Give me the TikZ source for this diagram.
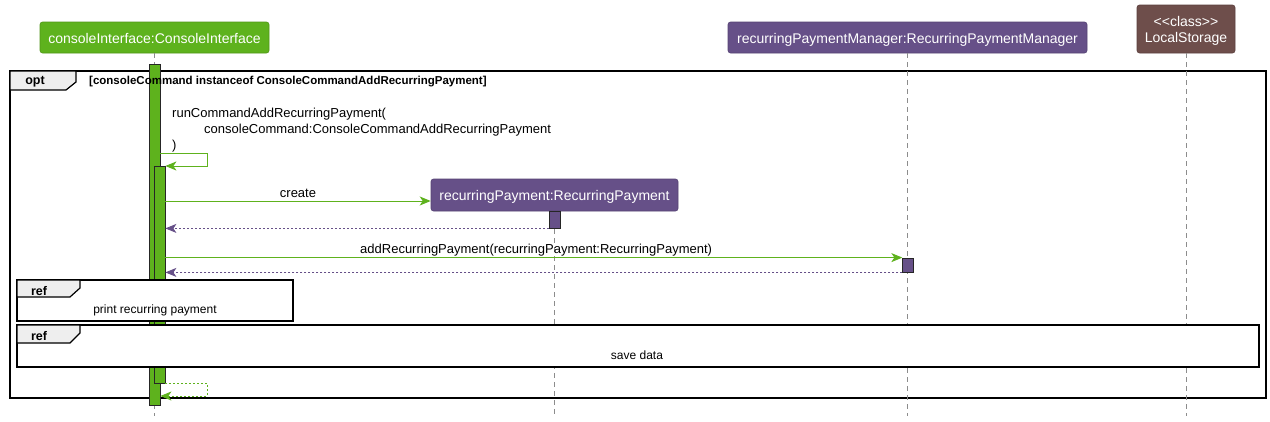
\documentclass[tikz,border=0pt]{standalone}
\usepackage{fontspec}
\setmainfont{Liberation Sans}
\newfontfamily\rawsans{Liberation Sans}
\usetikzlibrary{arrows.meta}
\definecolor{pgreen}{RGB}{94,178,29}
\definecolor{pgreenD}{RGB}{80,150,24}
\definecolor{ppurple}{RGB}{102,80,136}
\definecolor{ppurpleD}{RGB}{85,66,115}
\definecolor{pbrown}{RGB}{110,78,75}
\definecolor{pbrownD}{RGB}{92,64,62}
\definecolor{tabgray}{RGB}{238,238,238}
\definecolor{lifegray}{RGB}{140,140,140}
\begin{document}
\begin{tikzpicture}[x=1pt,y=-1pt,
  part/.style={rounded corners=2.5pt, inner sep=0pt, line width=0.6pt},
  ptext/.style={text=white, font=\rawsans\fontsize{14}{16}\selectfont, anchor=base, inner sep=0pt},
  life/.style={draw=lifegray, dash pattern=on 5pt off 4pt, line width=0.7pt},
  actbar/.style={draw=black!85, line width=0.8pt, minimum width=11pt, inner sep=0pt},
  tip/.style={-{Stealth[length=11pt,width=9pt,inset=3pt]}},
  msg/.style={draw=pgreen, line width=1pt, tip},
  ret/.style={draw=ppurple, line width=0.8pt, dash pattern=on 2pt off 2pt, tip},
  retg/.style={draw=pgreen, line width=0.8pt, dash pattern=on 2pt off 2pt, tip},
  mtext/.style={font=\fontsize{13}{16}\selectfont, inner sep=0pt},
  frame/.style={draw=black, line width=1.5pt},
  ftext/.style={font=\bfseries\fontsize{12.5}{14}\selectfont, inner sep=0pt, anchor=base},
  rtext/.style={font=\fontsize{12}{14}\selectfont, inner sep=0pt, anchor=base}
]
\useasboundingbox (0,0) rectangle (1270,421);
\fill[white] (0,0) rectangle (1270,421);

% opt frame
\draw[frame] (10,71) rectangle (1266,398);
\draw[frame, line width=1.2pt, fill=tabgray] (10,71) -- (76,71) -- (76,82) -- (66,90) -- (10,90) -- cycle;

% participants
\node[part, fill=pgreen, draw=pgreenD, minimum width=229pt, minimum height=31pt] (ci) at (154.5,37.5) {};
\node[ptext] (cit) at (154.5,43) {consoleInterface:ConsoleInterface};
\node[part, fill=ppurple, draw=ppurpleD, minimum width=359pt, minimum height=31pt] (rpm) at (907.5,37.5) {};
\node[ptext] (rpmt) at (907.5,43) {recurringPaymentManager:RecurringPaymentManager};
\node[part, fill=pbrown, draw=pbrownD, minimum width=98pt, minimum height=48pt] (ls) at (1186,29) {};
\node[ptext] (lst1) at (1186,26) {<<class>>};
\node[ptext] (lst2) at (1186,42) {LocalStorage};
\node[part, fill=ppurple, draw=ppurpleD, minimum width=247pt, minimum height=32pt] (rp) at (554.5,195) {};
\node[ptext] (rpt) at (554.5,200) {recurringPayment:RecurringPayment};

% lifelines
\coordinate (bot) at (0,416);
\draw[life] (ci.south) -- (ci.south |- bot);
\draw[life] (rp.south) -- (rp.south |- bot);
\draw[life] (rpm.south) -- (rpm.south |- bot);
\draw[life] (ls.south) -- (ls.south |- bot);

% activation bars
\node[actbar, fill=pgreen, minimum height=341pt] (a1) at (154.5,234.5) {};
\node[actbar, fill=pgreen, minimum height=217pt] (a2) at (159.5,274.5) {};
\node[actbar, fill=ppurple, minimum height=17pt] (b1) at (554.5,219.5) {};
\node[actbar, fill=ppurple, minimum width=10.5pt, minimum height=14pt] (c1) at (908,265) {};

% messages
\node[mtext, anchor=base west] (l1) at (172,117) {runCommandAddRecurringPayment(};
\node[mtext, anchor=base west] (l2) at (204,133) {consoleCommand:ConsoleCommandAddRecurringPayment};
\node[mtext, anchor=base west] (l3) at (172,149) {)};
\draw[msg] (a1.east |- 0,153) -- ++(47,0) |- (a2.east |- 0,166);

\node[mtext, anchor=base] (cr) at (298,197) {create};
\draw[msg] (a2.east |- 0,201) -- (rp.west |- 0,201);
\draw[ret] (b1.south west) -- (a2.east |- b1.south);

\node[mtext, anchor=base west] (add) at (360,253) {addRecurringPayment(recurringPayment:RecurringPayment)};
\draw[msg] (a2.east |- c1.north) -- (c1.north west);
\draw[ret] (c1.south west) -- (a2.east |- c1.south);

% ref 1
\draw[frame, fill=white] (17,280) rectangle (293,321);
\draw[frame, line width=1.2pt, fill=tabgray] (17,280) -- (80,280) -- (80,288) -- (70,297) -- (17,297) -- cycle;
\node[ftext] (r1) at (39,295) {ref};
\node[rtext] (r1t) at (155,313) {print recurring payment};

% ref 2
\draw[frame, fill=white] (17,325) rectangle (1259,367);
\draw[frame, line width=1.2pt, fill=tabgray] (17,325) -- (80,325) -- (80,333) -- (70,343) -- (17,343) -- cycle;
\node[ftext] (r2) at (39,340) {ref};
\node[rtext] (r2t) at (637,359) {save data};

% final return
\draw[retg] (a2.south east) -- ++(42,0) |- (a1.east |- 0,396);

% opt labels
\node[ftext] (optl) at (35,84) {opt};
\node[font=\bfseries\fontsize{11.5}{13}\selectfont, inner sep=0pt, anchor=base west] (guard) at (89,84) {[consoleCommand instanceof ConsoleCommandAddRecurringPayment]};
\end{tikzpicture}
\end{document}
